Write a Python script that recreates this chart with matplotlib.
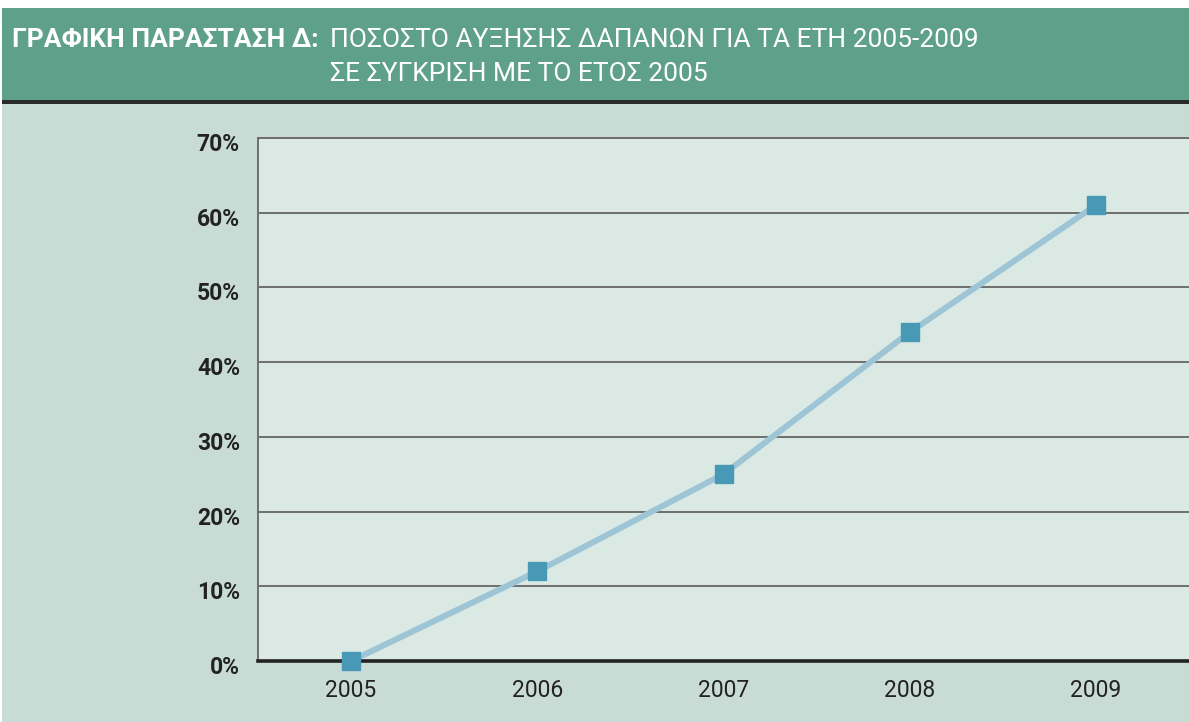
import numpy as np
import matplotlib.pyplot as plt
from matplotlib.patches import Rectangle
from matplotlib.ticker import FuncFormatter
import matplotlib.transforms as mtransforms

years = [2005, 2006, 2007, 2008, 2009]
increase = [0, 12, 25, 44, 61]
yticks = [0, 10, 20, 30, 40, 50, 60, 70]

title_bold = "ΓΡΑΦΙΚΗ ΠΑΡΑΣΤΑΣΗ Δ:"
title_line1 = "ΠΟΣΟΣΤΟ ΑΥΞΗΣΗΣ ΔΑΠΑΝΩΝ ΓΙΑ ΤΑ ΕΤΗ 2005-2009"
title_line2 = "ΣΕ ΣΥΓΚΡΙΣΗ ΜΕ ΤΟ ΕΤΟΣ 2005"

fonts = ['Roboto', 'DejaVu Sans']
W, H = 1189, 722

fig = plt.figure(figsize=(W / 100, H / 100), dpi=100)
fig.patch.set_facecolor('white')

def fy(px):
    return 1 - px / H

# background panels
fig.patches.append(Rectangle((2 / W, fy(722)), 1, (722 - 104) / H, transform=fig.transFigure,
                             facecolor='#c9dbd5', edgecolor='none', zorder=0))
fig.patches.append(Rectangle((2 / W, fy(100)), 1, (100 - 8) / H, transform=fig.transFigure,
                             facecolor='#5fa08a', edgecolor='none', zorder=0))
fig.patches.append(Rectangle((2 / W, fy(104)), 1, 4 / H, transform=fig.transFigure,
                             facecolor='#2b2b2b', edgecolor='none', zorder=0))

# title
fig.text(12 / W, fy(40), title_bold, color='white', fontsize=19, fontweight='bold',
         family=fonts, va='center', ha='left')
fig.text(330 / W, fy(40), title_line1, color='white', fontsize=19,
         family=fonts, va='center', ha='left')
fig.text(330 / W, fy(74), title_line2, color='white', fontsize=19,
         family=fonts, va='center', ha='left')

ax = fig.add_axes([258 / W, fy(661), 1 - 258 / W, (661 - 138) / H])
ax.set_zorder(3)
ax.set_facecolor('#dbe9e5')
ax.plot(years, increase, color='#9ec5d6', lw=4.3, zorder=3, solid_capstyle='butt')
ax.plot(years, increase, 's', color='#4799b5', ms=12.5, zorder=6, clip_on=False)

ax.set_xlim(2004.5, 2009.5)
ax.set_ylim(0, 70)
ax.set_yticks(yticks)
ax.set_xticks(years)
ax.yaxis.set_major_formatter(FuncFormatter(lambda v, p: '%d%%' % v))
ax.grid(axis='y', color='#6e6e6e', lw=1.4, zorder=1)
ax.set_axisbelow(True)
ax.tick_params(length=0)
ax.tick_params(axis='y', pad=13, labelsize=16.5, labelcolor='#222222')
ax.tick_params(axis='x', pad=13, labelsize=16.5, labelcolor='#222222')

# y labels sit a little below their gridlines in the original
shift = mtransforms.ScaledTranslation(0, -4 / 100, fig.dpi_scale_trans)
for lab in ax.get_yticklabels():
    lab.set_family(fonts)
    lab.set_fontweight('bold')
    lab.set_transform(lab.get_transform() + shift)
for lab in ax.get_xticklabels():
    lab.set_family(fonts)

ax.spines['right'].set_visible(False)
ax.spines['top'].set_color('#6e6e6e')
ax.spines['top'].set_linewidth(1.4)
ax.spines['left'].set_color('#6e6e6e')
ax.spines['left'].set_linewidth(1.4)
ax.spines['bottom'].set_color('#222222')
ax.spines['bottom'].set_linewidth(2.6)
ax.spines['bottom'].set_zorder(5)

fig.savefig('out.png', dpi=100)
